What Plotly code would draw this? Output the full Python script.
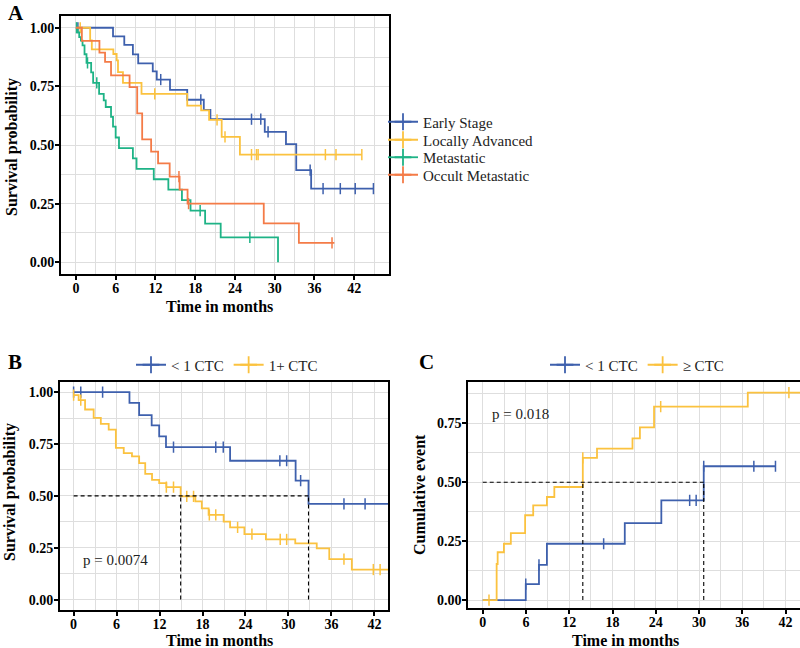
import plotly.graph_objects as go
from bisect import bisect_right

SERIF = "Liberation Serif"
BLUE = "#3E60AD"
YELLOW = "#FBC23F"
GREEN = "#1EB386"
ORANGE = "#F47B47"
GRID = "#DEDEDE"

# ---- panel A: survival by stage ----
EARLY_T = [5.6, 7.3, 8.6, 9.4, 11.6, 12.2, 14.2, 16.8, 19.3, 20.3, 28.5, 31.7, 33.25, 35.5]
EARLY_S = [0.963, 0.927, 0.886, 0.848, 0.814, 0.779, 0.735, 0.693, 0.650, 0.610, 0.556, 0.504, 0.393, 0.314]
EARLY_CENS = [0.3, 12.8, 18.85, 26.5, 27.9, 29.0, 35.35, 37.3, 39.9, 42.15, 44.9]
EARLY_END = 44.9

LOCAL_T = [2.15, 2.4, 5.65, 6.15, 6.35, 7.1, 9.9, 16.8, 18.9, 20.1, 22.0, 24.75]
LOCAL_S = [0.946, 0.908, 0.888, 0.861, 0.811, 0.765, 0.718, 0.668, 0.648, 0.607, 0.535, 0.459]
LOCAL_CENS = [0.65, 11.9, 21.3, 22.5, 26.5, 27.25, 27.5, 37.65, 39.25, 43.15]
LOCAL_END = 43.15

METAST_T = [0.25, 0.5, 0.75, 1.0, 1.3, 1.6, 2.3, 2.6, 3.5, 4.2, 4.5, 5.3, 5.6, 6.0, 6.5,
            8.6, 9.15, 11.75, 13.95, 16.0, 17.3, 19.5, 21.85, 30.5]
METAST_S = [0.98, 0.96, 0.945, 0.925, 0.887, 0.85, 0.81, 0.765, 0.718, 0.69, 0.662, 0.62, 0.578, 0.532, 0.487,
            0.443, 0.398, 0.354, 0.31, 0.265, 0.22, 0.165, 0.106, 0.0]
METAST_CENS = [0.1, 1.75, 3.15, 18.75, 26.25]
METAST_END = 30.5

OCCULT_T = [0.9, 3.55, 4.4, 5.3, 8.1, 9.25, 10.0, 11.35, 12.4, 14.15, 15.65, 16.85, 28.35, 33.65]
OCCULT_S = [0.944, 0.894, 0.854, 0.797, 0.747, 0.635, 0.524, 0.472, 0.422, 0.365, 0.31, 0.25, 0.166, 0.083]
OCCULT_CENS = [15.55, 17.0, 38.65]
OCCULT_END = 39.0

STAGE_NAMES = ["Early Stage", "Locally Advanced", "Metastatic", "Occult Metastatic"]

# ---- panel B: survival by CTC ----
LOW_T = [7.8, 9.15, 10.9, 11.95, 12.9, 21.85, 31.0, 32.8]
LOW_S = [0.948, 0.889, 0.84, 0.787, 0.735, 0.669, 0.573, 0.461]
LOW_CENS = [0.0, 1.0, 4.05, 13.95, 19.85, 20.9, 28.8, 29.75, 31.7, 37.75, 40.7]
LOW_END = 44.1

HIGH_START = 0.985
HIGH_T = [0.7, 1.6, 2.8, 3.8, 4.9, 5.9, 7.0, 8.15, 9.15, 10.0, 10.95, 11.95, 12.95, 14.95, 17.0,
          17.9, 18.85, 20.95, 21.85, 23.85, 26.85, 30.95, 33.95, 35.7, 38.85]
HIGH_S = [0.961, 0.916, 0.876, 0.847, 0.819, 0.731, 0.706, 0.69, 0.658, 0.606, 0.577, 0.561, 0.542, 0.497, 0.473,
          0.44, 0.408, 0.376, 0.348, 0.316, 0.29, 0.271, 0.247, 0.195, 0.145]
HIGH_CENS = [0.0, 1.0, 12.95, 13.95, 15.8, 16.75, 18.95, 19.85, 22.9, 24.9, 28.85, 29.75, 37.75, 41.85, 42.8]
HIGH_END = 44.1
B_MEDIANS = [14.95, 32.8]
B_PVAL = "p = 0.0074"

# ---- panel C: cumulative events by CTC ----
C_LOW_T = [5.97, 7.8, 8.9, 19.7, 24.77, 30.65]
C_LOW_V = [0.068, 0.149, 0.239, 0.327, 0.423, 0.568]
C_LOW_CENS = [5.97, 7.8, 16.77, 28.7, 29.6, 30.65, 37.6, 40.6]
C_LOW_END = 40.6

C_HIGH_T = [1.93, 2.07, 2.94, 3.9, 5.88, 7.0, 8.9, 9.93, 13.88, 15.85, 20.77, 21.8, 23.76, 36.76]
C_HIGH_V = [0.153, 0.203, 0.239, 0.284, 0.36, 0.402, 0.4375, 0.48, 0.604, 0.643, 0.686, 0.733, 0.821, 0.881]
C_HIGH_CENS = [0.87, 13.88, 24.68, 42.46]
C_HIGH_END = 44.0
C_MEDIANS = [13.88, 30.65]
C_PVAL = "p = 0.018"


def level_at(t, start, times, levels):
    i = bisect_right(times, t)
    return start if i == 0 else levels[i - 1]


def add_curve(fig, start, times, levels, cens, end, color, ax):
    xs = [0] + list(times) + [end]
    ys = [start] + list(levels) + [levels[-1]]
    fig.add_trace(go.Scatter(
        x=xs, y=ys, mode="lines", line=dict(color=color, width=1.8, shape="hv"),
        showlegend=False, hoverinfo="skip", xaxis="x" + ax, yaxis="y" + ax,
    ))
    fig.add_trace(go.Scatter(
        x=cens, y=[level_at(c, start, times, levels) for c in cens], mode="markers",
        marker=dict(symbol="line-ns-open", size=8, color=color, line=dict(color=color, width=1.5)),
        showlegend=False, hoverinfo="skip", xaxis="x" + ax, yaxis="y" + ax,
    ))


def add_key(fig, name, color, legend, ax):
    fig.add_trace(go.Scatter(
        x=[None], y=[None], mode="lines+markers", name=name,
        line=dict(color=color, width=1.8),
        marker=dict(symbol="cross-thin-open", size=12, color=color, line=dict(color=color, width=1.8)),
        legend=legend, xaxis="x" + ax, yaxis="y" + ax,
    ))


def add_medians(fig, medians, ax):
    dash = dict(color="black", width=1.1, dash="4px,3px")
    fig.add_trace(go.Scatter(
        x=[0, max(medians)], y=[0.5, 0.5], mode="lines", line=dash,
        showlegend=False, hoverinfo="skip", xaxis="x" + ax, yaxis="y" + ax,
    ))
    vx, vy = [], []
    for m in medians:
        vx += [m, m, None]
        vy += [0, 0.5, None]
    fig.add_trace(go.Scatter(
        x=vx, y=vy, mode="lines", line=dash,
        showlegend=False, hoverinfo="skip", xaxis="x" + ax, yaxis="y" + ax,
    ))


W, H = 800, 648


def px(x):
    return x / W


def py(y):
    return 1 - y / H


fig = go.Figure()

# panel A: one small legend per group so the rows sit as tight as in the original
stage_legends = ["legend", "legend4", "legend5", "legend6"]
stage_colors = [BLUE, YELLOW, GREEN, ORANGE]
add_curve(fig, 1.0, EARLY_T, EARLY_S, EARLY_CENS, EARLY_END, BLUE, "")
add_curve(fig, 1.0, LOCAL_T, LOCAL_S, LOCAL_CENS, LOCAL_END, YELLOW, "")
add_curve(fig, 1.0, METAST_T, METAST_S, METAST_CENS, METAST_END, GREEN, "")
add_curve(fig, 1.0, OCCULT_T, OCCULT_S, OCCULT_CENS, OCCULT_END, ORANGE, "")
for name, color, leg in zip(STAGE_NAMES, stage_colors, stage_legends):
    add_key(fig, name, color, leg, "")

# panel B
add_curve(fig, 1.0, LOW_T, LOW_S, LOW_CENS, LOW_END, BLUE, "2")
add_curve(fig, HIGH_START, HIGH_T, HIGH_S, HIGH_CENS, HIGH_END, YELLOW, "2")
add_medians(fig, B_MEDIANS, "2")
add_key(fig, "< 1 CTC", BLUE, "legend2", "2")
add_key(fig, "1+ CTC", YELLOW, "legend2", "2")

# panel C
add_curve(fig, 0.0, C_LOW_T, C_LOW_V, C_LOW_CENS, C_LOW_END, BLUE, "3")
add_curve(fig, 0.0, C_HIGH_T, C_HIGH_V, C_HIGH_CENS, C_HIGH_END, YELLOW, "3")
add_medians(fig, C_MEDIANS, "3")
add_key(fig, "< 1 CTC", BLUE, "legend3", "3")
add_key(fig, "≥ CTC", YELLOW, "legend3", "3")

tickfont = dict(family=SERIF, size=14, color="black", weight="bold")


def xax(domain, rng, anchor):
    return dict(
        domain=domain, range=rng, anchor=anchor, tickmode="linear", tick0=0, dtick=6,
        showline=True, mirror=True, linecolor="black", linewidth=2,
        ticks="outside", ticklen=4, tickwidth=1.5, tickcolor="black", ticklabelstandoff=-4,
        showgrid=True, gridcolor=GRID, gridwidth=1, zeroline=False, automargin=False,
        minor=dict(dtick=3, tick0=0, showgrid=True, gridcolor=GRID, gridwidth=1),
        tickfont=tickfont,
    )


def yax(domain, rng, anchor):
    return dict(
        domain=domain, range=rng, anchor=anchor, tickmode="linear", tick0=0, dtick=0.25,
        tickformat=".2f",
        showline=True, mirror=True, linecolor="black", linewidth=2,
        ticks="outside", ticklen=4, tickwidth=1.5, tickcolor="black", ticklabelstandoff=-2,
        showgrid=True, gridcolor=GRID, gridwidth=1, zeroline=False, automargin=False,
        minor=dict(dtick=0.125, tick0=0, showgrid=True, gridcolor=GRID, gridwidth=1),
        tickfont=tickfont,
    )


legfont = dict(family=SERIF, size=15, color="#222")
stage_rows = [122, 140, 157.5, 175]
layout_legends = {}
for leg, row in zip(stage_legends, stage_rows):
    layout_legends[leg] = dict(x=px(383), y=py(row), xanchor="left", yanchor="middle",
                               font=legfont, bgcolor="rgba(0,0,0,0)")

fig.update_layout(
    width=W, height=H, margin=dict(l=0, r=0, t=0, b=0),
    paper_bgcolor="white", plot_bgcolor="white",
    font=dict(family=SERIF, color="black"),
    xaxis=xax([px(61), px(389)], [-2.25, 47.25], "y"),
    yaxis=yax([py(274), py(16)], [-0.05, 1.05], "x"),
    xaxis2=xax([px(60), px(388)], [-1.9, 43.9], "y2"),
    yaxis2=yax([py(610), py(381.7)], [-0.05, 1.05], "x2"),
    xaxis3=xax([px(468.3), 1.0], [-2.0, 44.0], "y3"),
    yaxis3=yax([py(608.3), py(381.7)], [-0.035, 0.927], "x3"),
    legend2=dict(x=px(227), y=py(365), xanchor="center", yanchor="middle", orientation="h",
                 font=legfont, bgcolor="rgba(0,0,0,0)"),
    legend3=dict(x=px(637), y=py(365), xanchor="center", yanchor="middle", orientation="h",
                 font=legfont, bgcolor="rgba(0,0,0,0)"),
    **layout_legends,
)

ann = [
    ("<b>A</b>", 16, 13, 21, 0),
    ("<b>B</b>", 15, 362, 21, 0),
    ("<b>C</b>", 426, 362, 21, 0),
    ("<b>Survival probability</b>", 12, 147, 16, -90),
    ("<b>Survival probability</b>", 10, 492, 16, -90),
    ("<b>Cumulative event</b>", 420, 495, 16, -90),
    ("<b>Time in months</b>", 219, 306, 16, 0),
    ("<b>Time in months</b>", 219, 640, 16, 0),
    ("<b>Time in months</b>", 625, 640, 16, 0),
]
for text, x, y, size, angle in ann:
    fig.add_annotation(
        text=text, x=px(x), y=py(y), xref="paper", yref="paper", showarrow=False,
        xanchor="center", yanchor="middle", textangle=angle,
        font=dict(family=SERIF, size=size, color="black"),
    )

fig.add_annotation(text=B_PVAL, x=1.0, y=0.19, xref="x2", yref="y2", showarrow=False,
                   xanchor="left", yanchor="middle", font=dict(family=SERIF, size=15, color="#222"))
fig.add_annotation(text=C_PVAL, x=1.0, y=0.79, xref="x3", yref="y3", showarrow=False,
                   xanchor="left", yanchor="middle", font=dict(family=SERIF, size=15, color="#222"))

fig.write_html("out.html", config={"displayModeBar": False},
               post_script="document.body.style.margin='0';")
